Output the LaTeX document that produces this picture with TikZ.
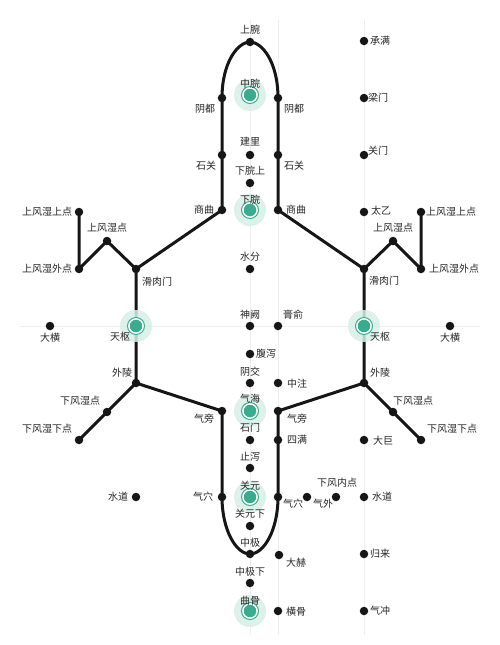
\documentclass[tikz,border=0pt]{standalone}
\usepackage{fontspec}
\newfontfamily\cjk{Noto Sans CJK SC}
\definecolor{ink}{HTML}{161616}
\definecolor{txt}{HTML}{262626}
\definecolor{tealc}{HTML}{3AAB8F}
\definecolor{haloc}{HTML}{D8EEE7}
\definecolor{gridc}{HTML}{EEEEEE}
\begin{document}
\begin{tikzpicture}[x=1pt,y=-1pt,
  meridian/.style={draw=ink,line width=3pt,line cap=round,line join=round},
  gridline/.style={draw=gridc,line width=0.8pt},
  dot/.style={circle,fill=ink,inner sep=0pt,minimum size=8.5pt},
  tdot/.style={circle,fill=tealc,inner sep=0pt,minimum size=12.5pt},
  lbl/.style={font=\cjk\fontsize{10}{12}\selectfont,text=txt,inner sep=0pt}]
\useasboundingbox (0,0) rectangle (500,645);
\fill[white] (0,0) rectangle (500,645);
% faint grid
\draw[gridline] (20,326) -- (480,326);
\draw[gridline] (250,20) -- (250,635);
\draw[gridline] (278,20) -- (278,635);
\draw[gridline] (364,20) -- (364,635);
% points
\coordinate (sw) at (250,42);
\coordinate (zw) at (250,95);
\coordinate (ydL) at (222,98);
\coordinate (ydR) at (278,98);
\coordinate (jl) at (250,155);
\coordinate (sgL) at (222,155);
\coordinate (sgR) at (278,155);
\coordinate (xws) at (250,183);
\coordinate (xw) at (250,210);
\coordinate (sqL) at (222,210);
\coordinate (sqR) at (278,210);
\coordinate (sf) at (250,269);
\coordinate (sque) at (250,326);
\coordinate (gs) at (278,326);
\coordinate (fx) at (250,354);
\coordinate (yj) at (250,383);
\coordinate (zz) at (278,383);
\coordinate (qh) at (250,411);
\coordinate (qpL) at (222,411);
\coordinate (qpR) at (278,411);
\coordinate (sm) at (250,440);
\coordinate (sman) at (278,440);
\coordinate (zx) at (250,468);
\coordinate (gy) at (250,497);
\coordinate (qxL) at (222,497);
\coordinate (qxR) at (278,497);
\coordinate (qw) at (307,497);
\coordinate (xfn) at (336,497);
\coordinate (sdL) at (136,497);
\coordinate (sdR) at (364,497);
\coordinate (gyx) at (250,526);
\coordinate (zj) at (250,554);
\coordinate (dh) at (279,555);
\coordinate (zjx) at (250,583);
\coordinate (qg) at (250,611);
\coordinate (hg) at (278,611);
\coordinate (cm) at (364,41);
\coordinate (lm) at (364,98);
\coordinate (gm) at (364,155);
\coordinate (ty) at (364,212);
\coordinate (gl) at (364,554);
\coordinate (qc) at (364,611);
\coordinate (dj) at (364,440);
\coordinate (ssL) at (79,212);
\coordinate (sfsL) at (107,241);
\coordinate (swL) at (79,269);
\coordinate (hrL) at (136,269);
\coordinate (tsL) at (136,326);
\coordinate (dhL) at (50,326);
\coordinate (wlL) at (136,383);
\coordinate (xfL) at (107,412);
\coordinate (xxL) at (79,440);
\coordinate (ssR) at (421,212);
\coordinate (sfsR) at (393,241);
\coordinate (swR) at (421,269);
\coordinate (hrR) at (364,269);
\coordinate (tsR) at (364,326);
\coordinate (dhR) at (450,326);
\coordinate (wlR) at (364,383);
\coordinate (xfR) at (393,412);
\coordinate (xxR) at (421,440);
% meridian lines
\draw[meridian] (sqL) -- (sgL) -- (ydL) .. controls (222,62) and (238,42) .. (sw)
  .. controls (262,42) and (278,62) .. (ydR) -- (sgR) -- (sqR);
\draw[meridian] (qpL) -- (qxL) .. controls (222,530) and (236,554) .. (zj)
  .. controls (264,554) and (278,530) .. (qxR) -- (qpR);
\draw[meridian] (sqL) -- (hrL) -- (sfsL) -- (swL) -- (ssL);
\draw[meridian] (hrL) -- (tsL) -- (wlL) -- (qpL);
\draw[meridian] (wlL) -- (xfL) -- (xxL);
\draw[meridian] (sqR) -- (hrR) -- (sfsR) -- (swR) -- (ssR);
\draw[meridian] (hrR) -- (tsR) -- (wlR) -- (qpR);
\draw[meridian] (wlR) -- (xfR) -- (xxR);
% highlighted points
\foreach \p in {zw,xw,tsL,tsR,qh,gy,qg}{
  \fill[haloc,opacity=0.85] (\p) circle (16pt);
  \fill[white] (\p) circle (9pt);
  \draw[tealc,line width=1pt] (\p) circle (8.5pt);
  \node[tdot] at (\p) {};
}
% black points
\foreach \p in {sw,ydL,ydR,jl,sgL,sgR,xws,sqL,sqR,sf,sque,gs,fx,yj,zz,qpL,qpR,sm,sman,zx,
  qxL,qxR,qw,xfn,sdL,sdR,gyx,zj,dh,zjx,hg,cm,lm,gm,ty,gl,qc,dj,
  ssL,sfsL,swL,hrL,dhL,wlL,xfL,xxL,ssR,sfsR,swR,hrR,dhR,wlR,xfR,xxR}{
  \node[dot] at (\p) {};
}
% labels
\node[lbl] (t-sw) at (250,30) {上腕};
\node[lbl] (t-zw) at (250,84) {中脘};
\node[lbl] (t-ydL) at (205,109) {阴都};
\node[lbl] (t-ydR) at (294,109) {阴都};
\node[lbl] (t-jl) at (250,142) {建里};
\node[lbl] (t-sgL) at (206,166) {石关};
\node[lbl] (t-sgR) at (294,166) {石关};
\node[lbl] (t-xws) at (250,171) {下脘上};
\node[lbl] (t-xw) at (250,200) {下脘};
\node[lbl] (t-sqL) at (204,210) {商曲};
\node[lbl] (t-sqR) at (296,210) {商曲};
\node[lbl] (t-sf) at (250,257) {水分};
\node[lbl] (t-sque) at (250,315) {神阙};
\node[lbl] (t-gs) at (293,315) {膏俞};
\node[lbl] (t-fx) at (266,354) {腹泻};
\node[lbl] (t-yj) at (250,372) {阴交};
\node[lbl] (t-zz) at (297,384) {中注};
\node[lbl] (t-qh) at (250,399) {气海};
\node[lbl] (t-qpL) at (204,419) {气旁};
\node[lbl] (t-qpR) at (297,419) {气旁};
\node[lbl] (t-sm) at (250,428) {石门};
\node[lbl] (t-sman) at (297,440) {四满};
\node[lbl] (t-zx) at (250,457) {止泻};
\node[lbl] (t-gy) at (250,486) {关元};
\node[lbl] (t-qxL) at (203,497) {气穴};
\node[lbl] (t-qxR) at (293,504) {气穴};
\node[lbl] (t-qw) at (323,504) {气外};
\node[lbl] (t-xfn) at (337,483) {下风内点};
\node[lbl] (t-sdR) at (382,497) {水道};
\node[lbl] (t-sdL) at (118,497) {水道};
\node[lbl] (t-gyx) at (250,514) {关元下};
\node[lbl] (t-zj) at (250,543) {中极};
\node[lbl] (t-dh) at (296,563) {大赫};
\node[lbl] (t-zjx) at (250,572) {中极下};
\node[lbl] (t-qg) at (250,601) {曲骨};
\node[lbl] (t-hg) at (296,612) {横骨};
\node[lbl] (t-cm) at (380,41) {承满};
\node[lbl] (t-lm) at (378,98) {梁门};
\node[lbl] (t-gm) at (378,151) {关门};
\node[lbl] (t-ty) at (381,211) {太乙};
\node[lbl] (t-gl) at (380,554) {归来};
\node[lbl] (t-qc) at (380,611) {气冲};
\node[lbl] (t-dj) at (383,441) {大巨};
\node[lbl] (t-ssL) at (47,212) {上风湿上点};
\node[lbl] (t-sfsL) at (107,228) {上风湿点};
\node[lbl] (t-swL) at (47,269) {上风湿外点};
\node[lbl] (t-hrL) at (157,282) {滑肉门};
\node[lbl] (t-tsL) at (120,337) {天枢};
\node[lbl] (t-dhL) at (50,338) {大横};
\node[lbl] (t-wlL) at (122,373) {外陵};
\node[lbl] (t-xfL) at (80,401) {下风湿点};
\node[lbl] (t-xxL) at (47,429) {下风湿下点};
\node[lbl] (t-ssR) at (451,212) {上风湿上点};
\node[lbl] (t-sfsR) at (393,228) {上风湿点};
\node[lbl] (t-swR) at (454,269) {上风湿外点};
\node[lbl] (t-hrR) at (384,281) {滑肉门};
\node[lbl] (t-tsR) at (380,337) {天枢};
\node[lbl] (t-dhR) at (450,338) {大横};
\node[lbl] (t-wlR) at (380,373) {外陵};
\node[lbl] (t-xfR) at (413,401) {下风湿点};
\node[lbl] (t-xxR) at (452,429) {下风湿下点};
\end{tikzpicture}
\end{document}
